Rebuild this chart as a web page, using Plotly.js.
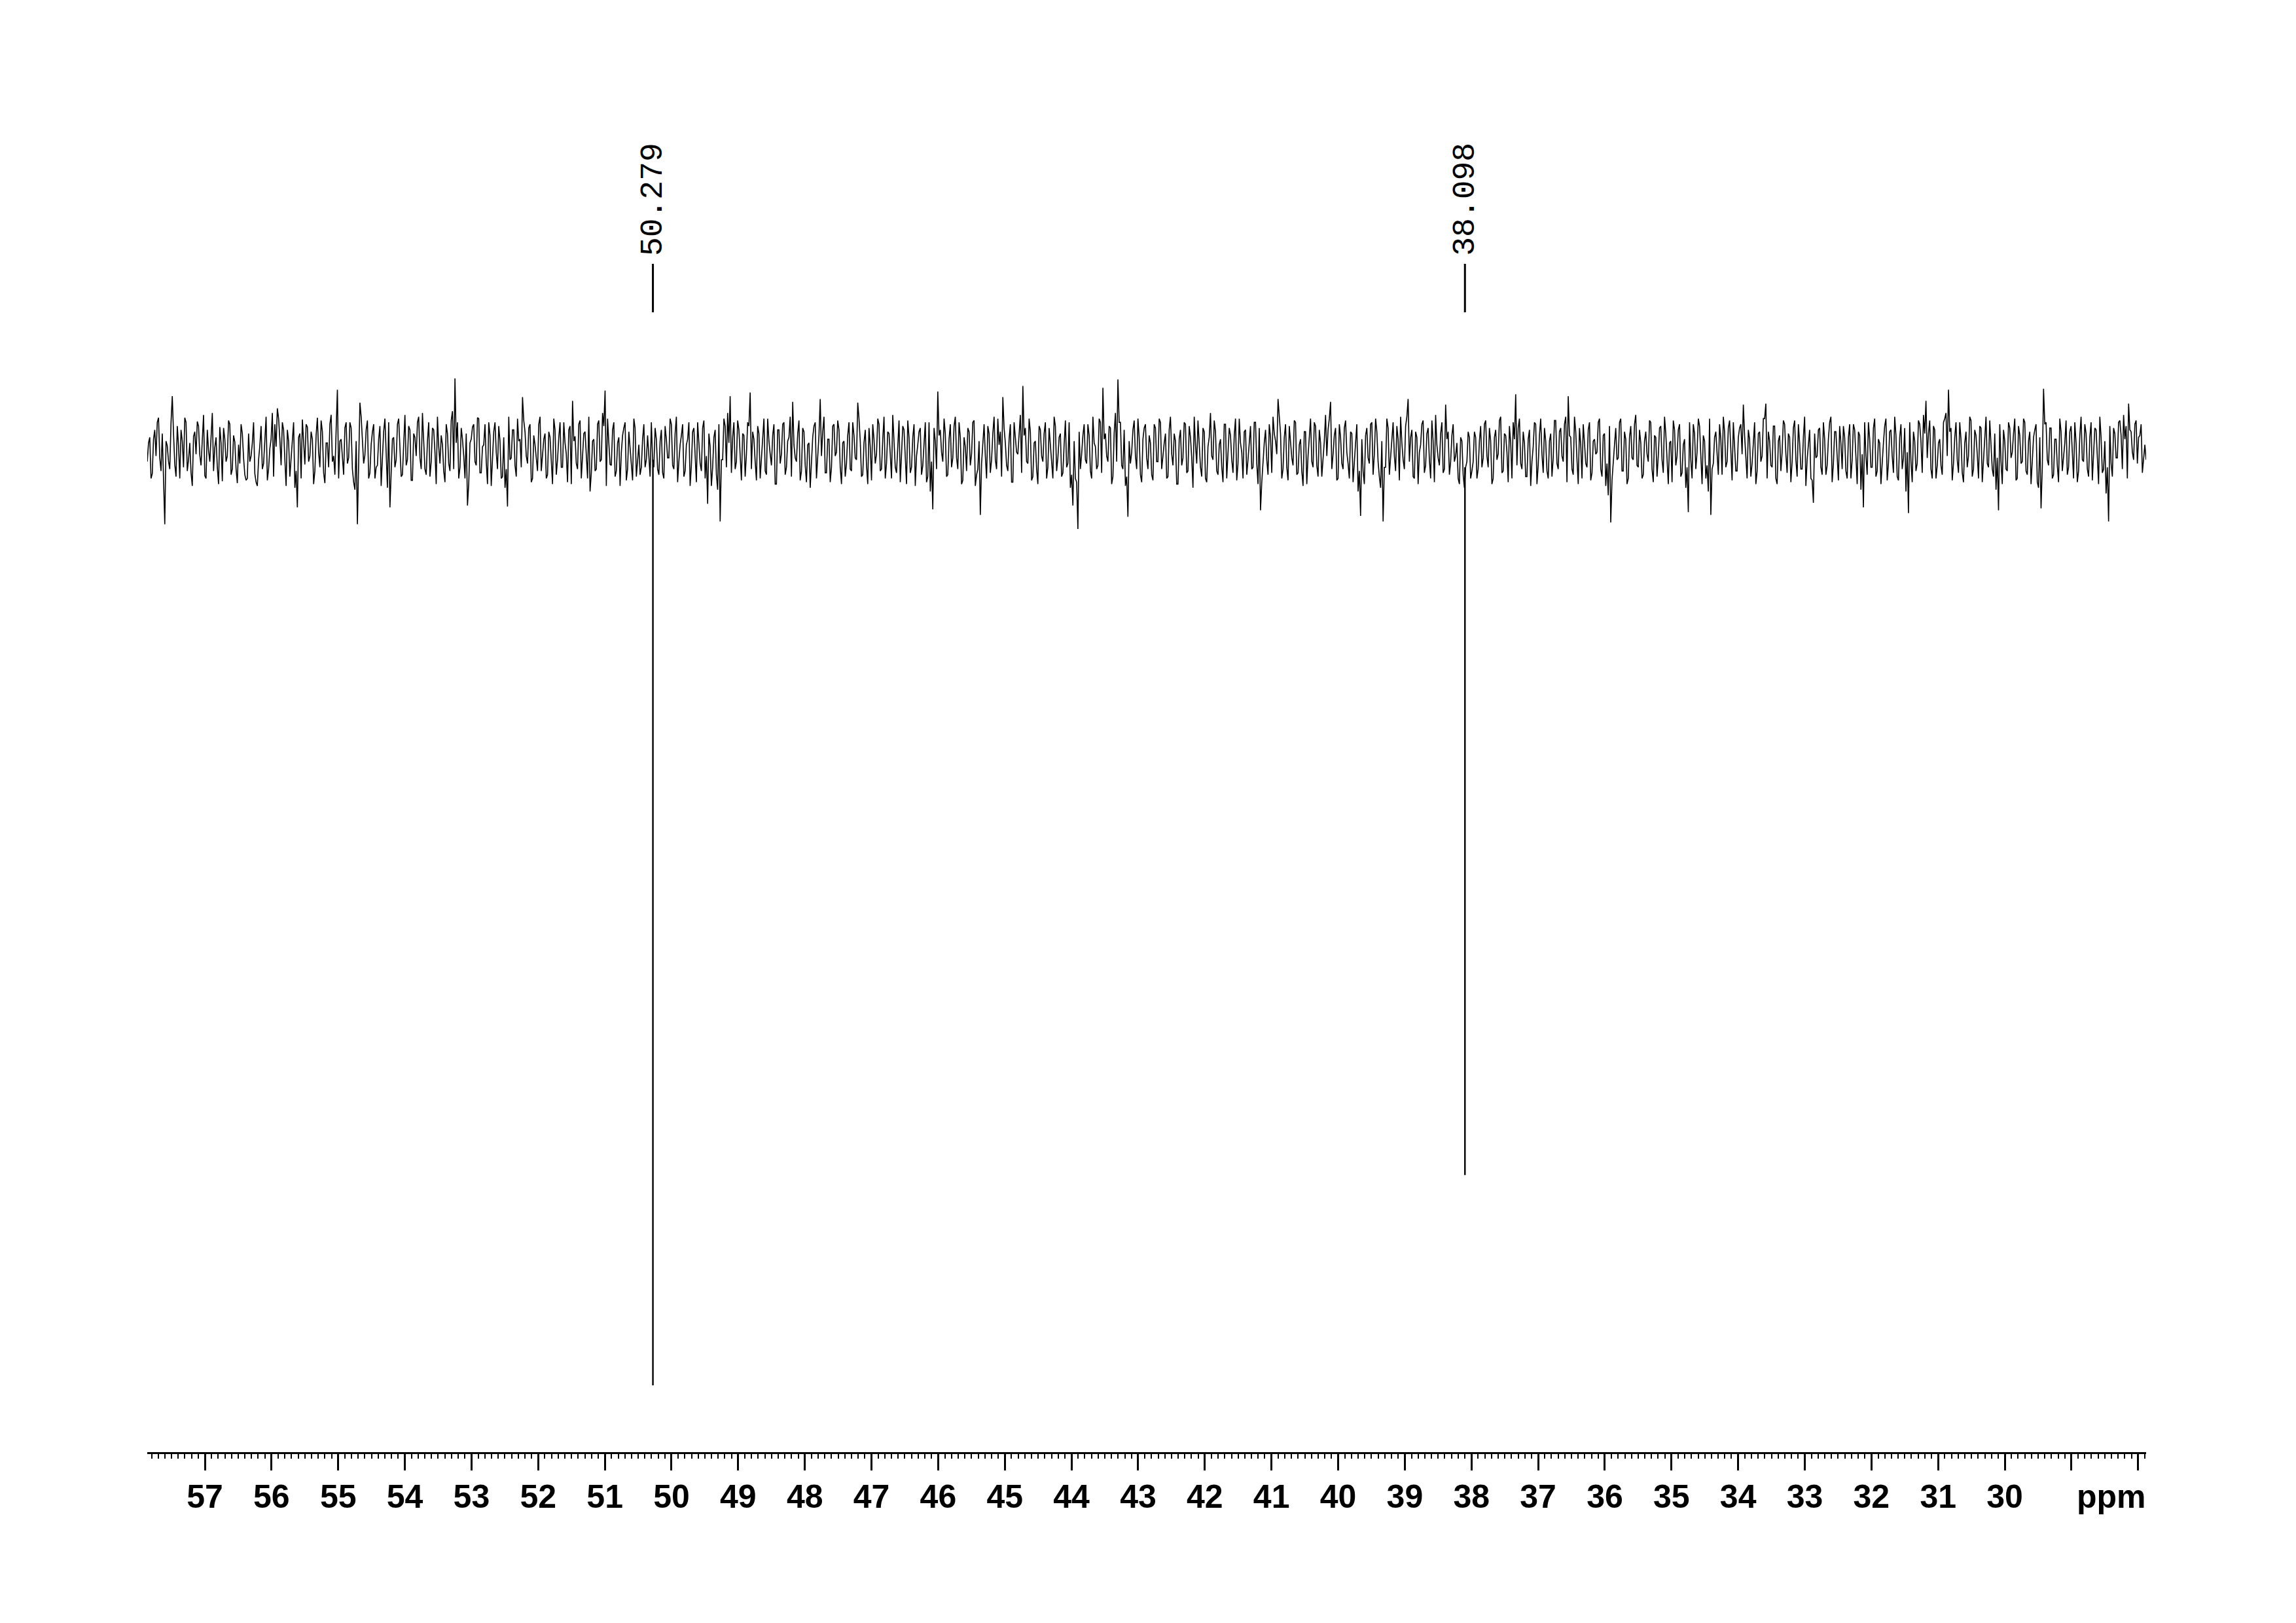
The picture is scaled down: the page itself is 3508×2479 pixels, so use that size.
<!DOCTYPE html>
<html>
<head>
<meta charset="utf-8">
<script src="https://cdn.plot.ly/plotly-3.0.1.min.js"></script>
<style>html,body{margin:0;padding:0;background:#fff;}#chart{width:3508px;height:2479px;}</style>
</head>
<body>
<div id="chart"></div>
<script>
// ---- data ----
// spectral window (ppm), sampled evenly from left edge to right edge
var ppmLeft = 57.864;
var ppmRight = 27.88;
// baseline noise at the main sampling points (intensity units)
var noise = [
-12,14,-25,22,30,-8,18,-79,5,-20,58,-15,26,-30,10,35,-22,8,-38,20,31,-5,14,-27,22,-12,40,3,-18,25,-33,12,-6,28,-20,9,-35,-14,18,-26,
-30,-12,8,-25,-38,5,-20,14,-32,2,40,28,45,12,30,-10,22,-28,6,-40,-61,18,33,-15,25,-6,12,-22,35,-18,20,-35,8,28,-12,-26,65,10,-8,24,
-14,30,-20,-42,-79,51,15,-5,32,-24,20,-30,-16,26,-8,34,-40,-61,12,-18,28,5,-26,38,-10,22,-32,14,30,-8,40,-20,10,-28,24,-2,36,-14,6,-34,
18,-22,42,77,30,-18,12,-30,-59,8,25,-12,35,-24,4,28,-36,16,-8,30,-20,10,-28,-40,-60,-10,22,-16,34,12,57,20,-14,28,-30,6,-22,36,-4,18,
-26,14,-36,22,-10,30,-18,8,-34,26,53,15,-20,32,-6,20,-30,-44,10,-22,28,-12,40,64,34,-15,22,-28,8,-38,16,30,-20,4,-32,24,-10,-26,12,-18,
16,-28,-10,24,-20,10,-24,26,-8,34,-16,18,-34,6,28,-22,12,-38,20,-6,30,-14,24,-30,-57,4,-18,22,-42,-76,-10,26,40,58,14,-20,32,-8,18,-28,
30,62,20,-12,26,-30,8,-22,34,-4,16,-36,22,-14,28,-26,10,36,52,-8,18,-32,24,-16,6,-40,14,30,-10,55,20,-24,12,-34,26,-6,32,-18,8,-28,
16,-20,30,-8,51,10,-26,22,-36,4,28,-14,34,-22,12,-30,20,-4,38,-18,8,-34,26,-10,32,-24,14,-38,6,24,-16,30,-28,-44,-63,10,63,22,-12,18,
-26,28,-8,36,-20,14,-32,4,24,-16,30,-38,-20,-69,12,-6,26,-24,18,-10,34,20,57,8,-22,28,-34,14,-4,38,69,24,-14,20,-28,10,-36,22,-12,30,
-18,6,-30,26,-8,18,-24,32,-14,-40,-59,-30,-84,-20,16,-10,28,-22,36,4,-16,30,67,18,-12,24,-28,40,76,30,-20,-38,-71,-14,22,-6,34,-26,12,28,
-20,8,-32,24,-12,30,-4,18,-28,36,-16,10,-36,22,-8,28,-22,14,-40,6,32,-18,24,-30,4,40,-10,20,-26,12,-34,28,-6,16,-24,34,-14,8,-30,22,
-10,26,-18,30,-36,-64,-8,22,-26,14,36,10,55,18,-20,28,-32,6,-16,30,-24,12,-38,20,-6,34,-18,26,-28,8,-12,38,22,52,-4,24,-30,14,-20,32,
-14,20,-34,8,-44,-70,-22,16,-8,28,-26,34,-12,-40,-76,-18,24,-6,30,-22,12,36,-10,26,55,14,-28,20,-36,6,32,-16,24,-30,10,38,-8,18,-24,49,
20,-12,28,-6,-30,14,-26,-18,20,-30,-12,14,-20,26,-8,32,-18,10,-30,22,-4,36,-22,16,-34,8,30,60,24,-14,20,-28,12,-38,4,28,-16,34,-24,10,
-30,18,-8,32,-20,24,-12,36,58,14,-26,20,-36,6,28,-14,22,-32,10,-4,30,-20,16,-38,-48,-77,-16,24,-8,34,-22,12,-30,26,-10,38,-18,8,-26,20,
-12,30,-34,14,-6,26,-24,18,-36,10,32,-16,22,-28,6,-40,-66,-10,28,-20,34,-8,16,-30,-44,-69,-14,20,-26,12,36,-18,24,-6,30,-22,14,28,49,-10,
22,-28,8,-36,18,-12,34,50,20,-16,26,-30,10,-22,32,-4,18,-34,24,-10,28,-20,14,-38,6,-30,-56,-8,22,-18,30,-26,12,36,-14,20,-32,8,26,-22,
14,-30,28,-10,20,-42,-61,-6,30,-18,24,-28,12,-36,8,34,-14,22,-24,16,-32,28,-8,-44,-67,-12,20,-22,32,10,38,53,18,-20,26,-30,8,-16,30,40,
65,24,-14,30,-24,12,-34,20,-6,32,-20,16,-30,24,-10,36,-18,6,-28,-42,-64,-12,22,-20,30,-8,18,-32,26,-14,34,-22,10,-36,14,28,-40,-62,66,30,
-16,24,-26,12,-34,20,-8,32,-18,26,-30,8,-22,36,-12,18,-28,30,-6,22,-36,14,-20,-46,-76,-14,24,-8,30,16,38,26,50,20,-10,32,14,28,-8,-10
];
// baseline noise halfway between the main sampling points
var noiseMid = [
8,-30,12,-6,35,-22,-40,10,-12,30,18,-28,5,22,-18,30,-10,-24,15,-4,26,-16,38,-30,0,20,-22,14,-36,8,24,-12,32,-26,16,-20,6,28,-8,-32,
18,-6,30,-34,-10,26,-14,36,-20,12,-28,4,34,-16,22,-38,10,-8,30,-22,14,-30,6,28,-12,20,-36,16,-2,32,-24,8,-18,38,-6,22,-30,12,-26,30,
-8,24,-34,10,-20,36,-14,22,-30,6,28,-18,12,-38,20,-4,30,-24,14,-10,34,-28,8,-16,26,-32,18,-6,36,-20,10,-26,30,-12,22,-36,4,16,-22,28,
-14,32,-20,8,-30,24,-6,18,-36,12,28,-16,34,-24,6,-12,30,-38,20,-2,26,-30,14,-20,36,-8,22,-28,10,-18,32,-6,24,-34,16,-10,28,-22,12,-30,
20,-8,34,-26,14,-18,30,-4,22,-36,10,-14,28,-30,18,-6,36,-24,12,-20,32,-10,26,-38,8,-16,30,-22,14,-2,24,-32,20,-12,34,-28,6,-18,28,-10,
-8,30,-18,12,-26,22,-30,12,-8,28,-20,36,-12,16,-28,6,30,-16,24,-34,10,-22,32,-6,18,-38,14,-26,28,-10,34,-18,8,-24,30,-12,22,-32,16,-4,
26,-20,12,-32,18,-8,34,-26,10,-16,28,-36,22,-4,30,-18,14,-28,6,-12,32,-22,20,-34,8,-10,26,-30,16,-6,36,-24,12,-18,28,-2,22,-36,10,-14,
30,-22,16,-10,34,-28,8,-16,24,-32,12,-4,28,-20,36,-14,18,-30,6,-24,32,-8,22,-36,14,-18,28,-6,20,-26,10,-34,30,-12,24,-20,16,-2,34,-28,
12,-18,26,-8,30,-36,14,-22,20,-4,32,-26,10,-14,28,-30,18,-10,36,-20,6,-28,24,-16,12,-34,30,-2,22,-24,16,-12,34,-32,8,-20,26,-6,18,-30,
24,-10,36,-22,14,-28,6,-18,30,-26,10,-34,20,-4,28,-14,16,-30,8,-20,34,-24,12,-6,26,-36,18,-12,30,-16,22,-28,10,-2,32,-20,14,-34,24,-8,
16,-26,28,-12,34,-20,8,-30,22,-4,18,-36,12,-16,30,-24,26,-8,36,-14,10,-28,20,-34,14,-6,32,-22,6,-18,28,-30,24,-10,16,-32,34,-2,20,-26,
12,-20,30,-14,24,-34,8,-10,28,-24,18,-4,36,-30,14,-18,26,-8,32,-26,6,-22,20,-36,12,-12,30,-16,22,-28,10,-6,34,-20,16,-32,28,-14,24,-2,
-30,18,-8,28,-22,12,-36,24,-14,30,-4,20,-28,10,-18,34,-26,16,-6,26,-32,8,-20,36,-12,22,-30,14,-2,28,-24,18,-10,32,-34,6,-16,30,-20,12,
-26,16,-12,8,-36,10,-40,-12,14,-22,20,-30,10,-18,28,-6,24,-36,14,-10,32,-24,18,-2,26,-30,12,-16,34,-20,8,-28,22,-12,30,-36,16,-4,24,-22,
10,-28,32,-14,20,-6,28,-34,16,-20,36,-10,24,-30,8,-18,30,-24,12,-2,34,-28,18,-14,26,-32,6,-10,30,-22,20,-36,14,-8,28,-16,22,-30,10,-4,
32,-20,16,-28,24,-10,36,-14,8,-34,22,-6,28,-24,12,-18,30,-30,18,-2,26,-36,10,-16,34,-20,14,-8,28,-26,20,-12,32,-32,6,-22,24,-4,16,-30,
12,-14,30,-22,20,-6,34,-30,10,-18,26,-36,16,-2,28,-24,14,-12,32,-28,8,-20,36,-10,22,-32,18,-6,24,-26,12,-16,30,-34,20,-8,26,-20,14,-30,
28,-10,22,-36,16,-4,30,-26,12,-18,34,-22,8,-12,26,-32,20,-6,36,-28,14,-20,24,-2,30,-34,10,-14,28,-24,18,-8,32,-30,22,-16,12,-26,34,-6,
20,-32,14,-10,30,-24,8,-18,36,-28,22,-4,26,-34,12,-14,32,-20,18,-8,28,-36,10,-22,24,-2,34,-30,16,-12,30,-26,20,-6,22,-34,14,-18,28,-10,
24,-30,12,-16,34,-22,8,-26,20,-4,30,-34,16,-10,28,-20,14,-32,24,-6,36,-24,10,-18,26,-28,18,-8,32,-20,12,-30,22,-2,28,-14,16,-24,6
];
// resonances (ppm) and their (negative) intensities
var peakPpm = [50.279, 38.098];
var peakDepth = [-1000, -775];
var peakLabels = ['50.279', '38.098'];
// axis tick labels
var tickVals = [57,56,55,54,53,52,51,50,49,48,47,46,45,44,43,42,41,40,39,38,37,36,35,34,33,32,31,30,29,28];
var tickText = ['57','56','55','54','53','52','51','50','49','48','47','46','45','44','43','42','41','40','39','38','37','36','35','34','33','32','31','30','',''];
var unitLabel = 'ppm';
var unitLabelPpm = 28.40;

// ---- build traces ----
var n = noise.length;
var step = (ppmLeft - ppmRight) / (n - 1);
var xs = [], ys = [];
for (var i = 0; i < n; i++) {
  xs.push(ppmLeft - i * step); ys.push(noise[i]);
  if (i < noiseMid.length && i < n - 1) { xs.push(ppmLeft - (i + 0.5) * step); ys.push(noiseMid[i]); }
}
var pkx = [], pky = [];
for (var k = 0; k < peakPpm.length; k++) {
  var idx = Math.round((ppmLeft - peakPpm[k]) / step);
  pkx.push(peakPpm[k], peakPpm[k], null);
  pky.push(noise[idx], peakDepth[k], null);
}

var noiseTrace = {
  x: xs, y: ys, type: 'scatter', mode: 'lines',
  line: {color: '#000000', width: 1.6},
  hoverinfo: 'skip', showlegend: false
};
var peakTrace = {
  x: pkx, y: pky, type: 'scatter', mode: 'lines', connectgaps: false,
  line: {color: '#000000', width: 2.4},
  hoverinfo: 'skip', showlegend: false
};

var W = 3508, H = 2479;
var mL = 225, mR = 229, mT = 200, mB = 261;
var plotH = H - mT - mB;
function paperY(v) { return (H - mB - v) / plotH; }

var shapes = [], annotations = [];
for (var m = 0; m < peakPpm.length; m++) {
  shapes.push({type: 'line', xref: 'x', yref: 'paper', x0: peakPpm[m], x1: peakPpm[m],
    y0: paperY(477), y1: paperY(403), line: {color: '#000', width: 3}});
  annotations.push({xref: 'x', yref: 'paper', x: peakPpm[m], y: paperY(392),
    xanchor: 'center', yanchor: 'bottom', text: peakLabels[m], textangle: -90, showarrow: false,
    font: {family: 'Liberation Mono, DejaVu Sans Mono, monospace', size: 48, color: '#000'}, borderpad: 0});
}
annotations.push({xref: 'x', yref: 'paper', x: unitLabelPpm, y: paperY(2257), xanchor: 'center', yanchor: 'top',
  text: unitLabel, showarrow: false, borderpad: 0,
  font: {family: 'Liberation Sans, Arial, sans-serif', size: 50, color: '#000', weight: 'bold'}});

var layout = {
  width: W, height: H,
  margin: {l: mL, r: mR, t: mT, b: mB, pad: 0},
  paper_bgcolor: '#fff', plot_bgcolor: '#fff',
  showlegend: false,
  xaxis: {
    range: [ppmLeft, ppmRight], showgrid: false, zeroline: false,
    showline: true, linecolor: '#000', linewidth: 3, mirror: false,
    ticks: 'outside', ticklen: 25, tickwidth: 3, tickcolor: '#000',
    tickmode: 'array', tickvals: tickVals, ticktext: tickText,
    tickfont: {family: 'Liberation Sans, Arial, sans-serif', size: 50, color: '#000', weight: 'bold'},
    ticklabelstandoff: -3,
    minor: {ticks: 'outside', ticklen: 7, tickwidth: 2, tickcolor: '#000', dtick: 0.1, tick0: 0, showgrid: false}
  },
  yaxis: {range: [-1071.4, 341.7], visible: false, showgrid: false, zeroline: false},
  shapes: shapes,
  annotations: annotations
};

Plotly.newPlot('chart', [noiseTrace, peakTrace], layout, {staticPlot: true, displayModeBar: false});
</script>
</body>
</html>
